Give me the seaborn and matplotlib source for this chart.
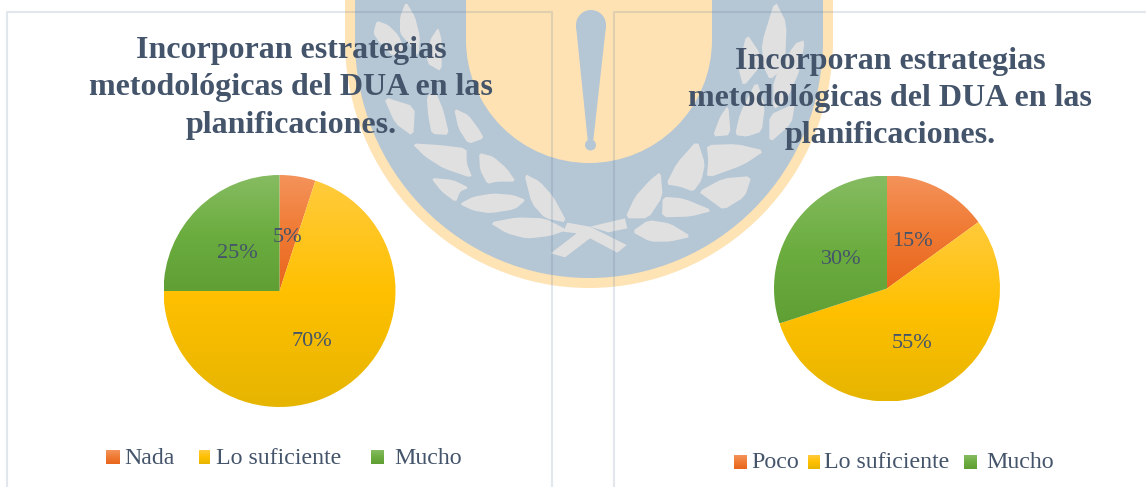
import numpy as np
import seaborn as sns
import matplotlib.pyplot as plt
from matplotlib.colors import LinearSegmentedColormap
from matplotlib.patches import Ellipse, Polygon, Circle, Rectangle

title_lines = ["Incorporan estrategias", "metodológicas del DUA en las", "planificaciones."]
labels_left = ["Nada", "Lo suficiente", "Mucho"]
values_left = [5, 70, 25]
labels_right = ["Poco", "Lo suficiente", "Mucho"]
values_right = [15, 55, 30]

W, H = 1146, 487
TEXT = "#44546A"
SERIF = "Liberation Serif"

sns.set_theme(style="white")
plt.rcParams["font.family"] = [SERIF, "DejaVu Sans"]

orange = LinearSegmentedColormap.from_list("o", ["#F4935B", "#F07A33", "#E8651C"])
yellow = LinearSegmentedColormap.from_list("y", ["#FFCB3D", "#FFC000", "#E6B500"])
green = LinearSegmentedColormap.from_list("g", ["#86BC62", "#6CAD40", "#5F9F34"])
cmaps = [orange, yellow, green]

# watermark leaves, traced in 3x zoom coords of the logo
leaves = [
    [(228,5),(255,50),(270,110),(265,170),(235,130),(210,100),(210,50)],
    [(140,62),(175,75),(205,105),(225,150),(190,170),(150,130),(130,100)],
    [(325,82),(335,120),(335,215),(290,190),(300,120)],
    [(160,290),(255,320),(250,410),(195,370)],
    [(290,290),(315,270),(340,330),(358,405),(305,402),(295,350)],
    [(372,325),(415,345),(445,385),(462,415),(415,432),(385,385)],
    [(245,430),(330,435),(410,445),(410,490),(428,535),(340,505),(285,470)],
    [(447,458),(490,470),(530,505),(558,545),(500,545),(472,552),(450,510)],
    [(302,533),(370,540),(417,563),(390,575),(378,607),(335,575)],
    [(388,612),(430,590),(490,580),(550,585),(588,600),(555,628),(480,640),(430,632)],
    [(582,520),(630,545),(670,590),(712,668),(645,655),(605,610)],
    [(478,668),(560,652),(645,655),(712,690),(660,708),(590,716),(530,700)],
    [(885,655),(915,590),(960,540),(992,515),(998,590),(955,655)],
    [(905,695),(955,660),(1020,670),(1085,710),(1020,725),(960,725)],
    [(998,590),(1060,595),(1150,632),(1080,650),(996,652)],
    [(1105,575),(1180,535),(1265,528),(1245,590),(1180,630),(1140,600)],
    [(1008,553),(1040,490),(1102,420),(1125,490),(1115,540),(1090,575),(1050,560)],
    [(1130,435),(1220,432),(1305,452),(1240,495),(1130,535),(1135,480)],
    [(1148,410),(1170,350),(1195,315),(1202,405)],
    [(1215,405),(1230,340),(1280,240),(1305,320),(1295,395),(1250,410)],
    [(1318,345),(1395,310),(1385,370),(1318,430)],
    [(1295,130),(1335,0),(1370,70),(1365,200),(1320,240),(1300,200)],
    [(1225,205),(1250,100),(1290,160),(1290,200),(1240,260)],
    [(1330,240),(1395,130),(1425,120),(1410,210),(1370,300),(1330,330)],
]
stems = [
    [(712,668),(780,680),(890,735),(862,758),(780,715),(705,772),(662,760),(740,700),(700,695)],
    [(780,680),(885,655),(892,685),(835,697)],
]


def soften(pts):
    # one round of corner cutting, tips stay fairly sharp
    pts = np.array(pts, float)
    nxt = np.roll(pts, -1, axis=0)
    return np.column_stack([0.85*pts + 0.15*nxt, 0.15*pts + 0.85*nxt]).reshape(-1, 2)


def to_px(pts):
    return np.array(pts, float)/3 + [330, 0]


def full_axes(z):
    a = fig.add_axes([0, 0, 1, 1], zorder=z)
    a.set_xlim(0, W)
    a.set_ylim(H, 0)
    a.axis("off")
    return a


def draw_pie(cx, cy, r, values, colors):
    ax = fig.add_axes([(cx-r)/W, 1-(cy+r)/H, 2*r/W, 2*r/H], zorder=1)
    wedges, _ = ax.pie(values, startangle=90, counterclock=False, radius=1,
                       colors=sns.color_palette(["#ED7D31", "#FFC000", "#70AD47"]),
                       wedgeprops={"linewidth": 0, "edgecolor": "none"})
    grad = np.linspace(0, 1, 256).reshape(-1, 1)
    for wedge, cm in zip(wedges, colors):
        # wedge stays as the clip shape, the gradient is what shows
        wedge.set_facecolor("none")
        ext = wedge.get_path().transformed(wedge.get_patch_transform()).get_extents()
        im = ax.imshow(grad, cmap=cm, aspect="auto", extent=[ext.x0, ext.x1, ext.y0, ext.y1], origin="upper")
        im.set_clip_path(wedge)
    ax.set_xlim(-1, 1)
    ax.set_ylim(-1, 1)
    ax.set_aspect("equal")
    ax.axis("off")
    return ax


def swatch(x0, x1, y0, y1, cm):
    grad = np.linspace(0, 1, 64).reshape(-1, 1)
    top.imshow(grad, cmap=cm, aspect="auto", extent=[x0, x1, y1, y0], origin="upper")
    top.set_xlim(0, W)
    top.set_ylim(H, 0)


fig = plt.figure(figsize=(W/100, H/100), dpi=100, facecolor="white")
bg = full_axes(0)
top = full_axes(2)
top.patch.set_alpha(0)

# logo behind the charts
bg.add_patch(Rectangle((345, -5), 488, 46, fc="#FEE3B5", lw=0))
bg.add_patch(Ellipse((589, 40), 488, 496, fc="#FEE3B5", lw=0))
bg.add_patch(Rectangle((355, -5), 468, 46, fc="#B5C6D5", lw=0))
bg.add_patch(Ellipse((589, 40), 468, 476, fc="#B5C6D5", lw=0))
bg.add_patch(Rectangle((466, -5), 246, 46, fc="#FEE2B3", lw=0))
bg.add_patch(Ellipse((589, 40), 246, 246, fc="#FEE2B3", lw=0))
bg.add_patch(Circle((591, 25), 15, fc="#B5C6D5", lw=0))
bg.add_patch(Polygon([(576, 26), (606, 26), (593, 143), (588, 143)], fc="#B5C6D5", lw=0))
bg.add_patch(Circle((590.5, 145), 5.5, fc="#B5C6D5", lw=0))
for leaf in leaves:
    bg.add_patch(Polygon(soften(to_px(leaf)), fc="#E0E0E0", lw=0))
for stem in stems:
    bg.add_patch(Polygon(to_px(stem), fc="#E0E0E0", lw=0))

# chart frames
for x0, x1 in [(7, 552), (614, 1160)]:
    bg.plot([x0, x0, x1, x1], [H+5, 12, 12, H+5], color="#5A7A9A", alpha=0.18, lw=1.5)

draw_pie(279.5, 291, 116, values_left, cmaps)
draw_pie(887, 288.5, 113, values_right, cmaps)

# titles
for line, y in zip(title_lines, [58, 95, 133]):
    top.text(291, y, line, ha="center", va="baseline", fontsize=23, fontweight="bold", color=TEXT, family=SERIF)
for line, y in zip(title_lines, [69, 106, 143]):
    top.text(890, y, line, ha="center", va="baseline", fontsize=23, fontweight="bold", color=TEXT, family=SERIF)

# slice labels
for v, (x, y) in zip(values_left, [(288, 237), (312, 341), (237, 254)]):
    top.text(x, y, f"{v}%", ha="center", va="center", fontsize=16, color=TEXT, family=SERIF)
for v, (x, y) in zip(values_right, [(912, 242), (912, 343), (841, 260)]):
    top.text(x, y, f"{v}%", ha="center", va="center", fontsize=16, color=TEXT, family=SERIF)

# legends
for lab, cm, (x0, x1), tx in zip(labels_left, cmaps, [(106, 120), (199, 210), (371, 384)], [124, 216, 394]):
    swatch(x0, x1, 450, 464, cm)
    top.text(tx, 459, lab, ha="left", va="center", fontsize=17.2, color=TEXT, family=SERIF)
for lab, cm, (x0, x1), tx in zip(labels_right, cmaps, [(734, 747), (808, 820), (964, 977)], [751, 824, 986]):
    swatch(x0, x1, 455, 469, cm)
    top.text(tx, 463, lab, ha="left", va="center", fontsize=17.2, color=TEXT, family=SERIF)

fig.savefig("out.png", dpi=100)
